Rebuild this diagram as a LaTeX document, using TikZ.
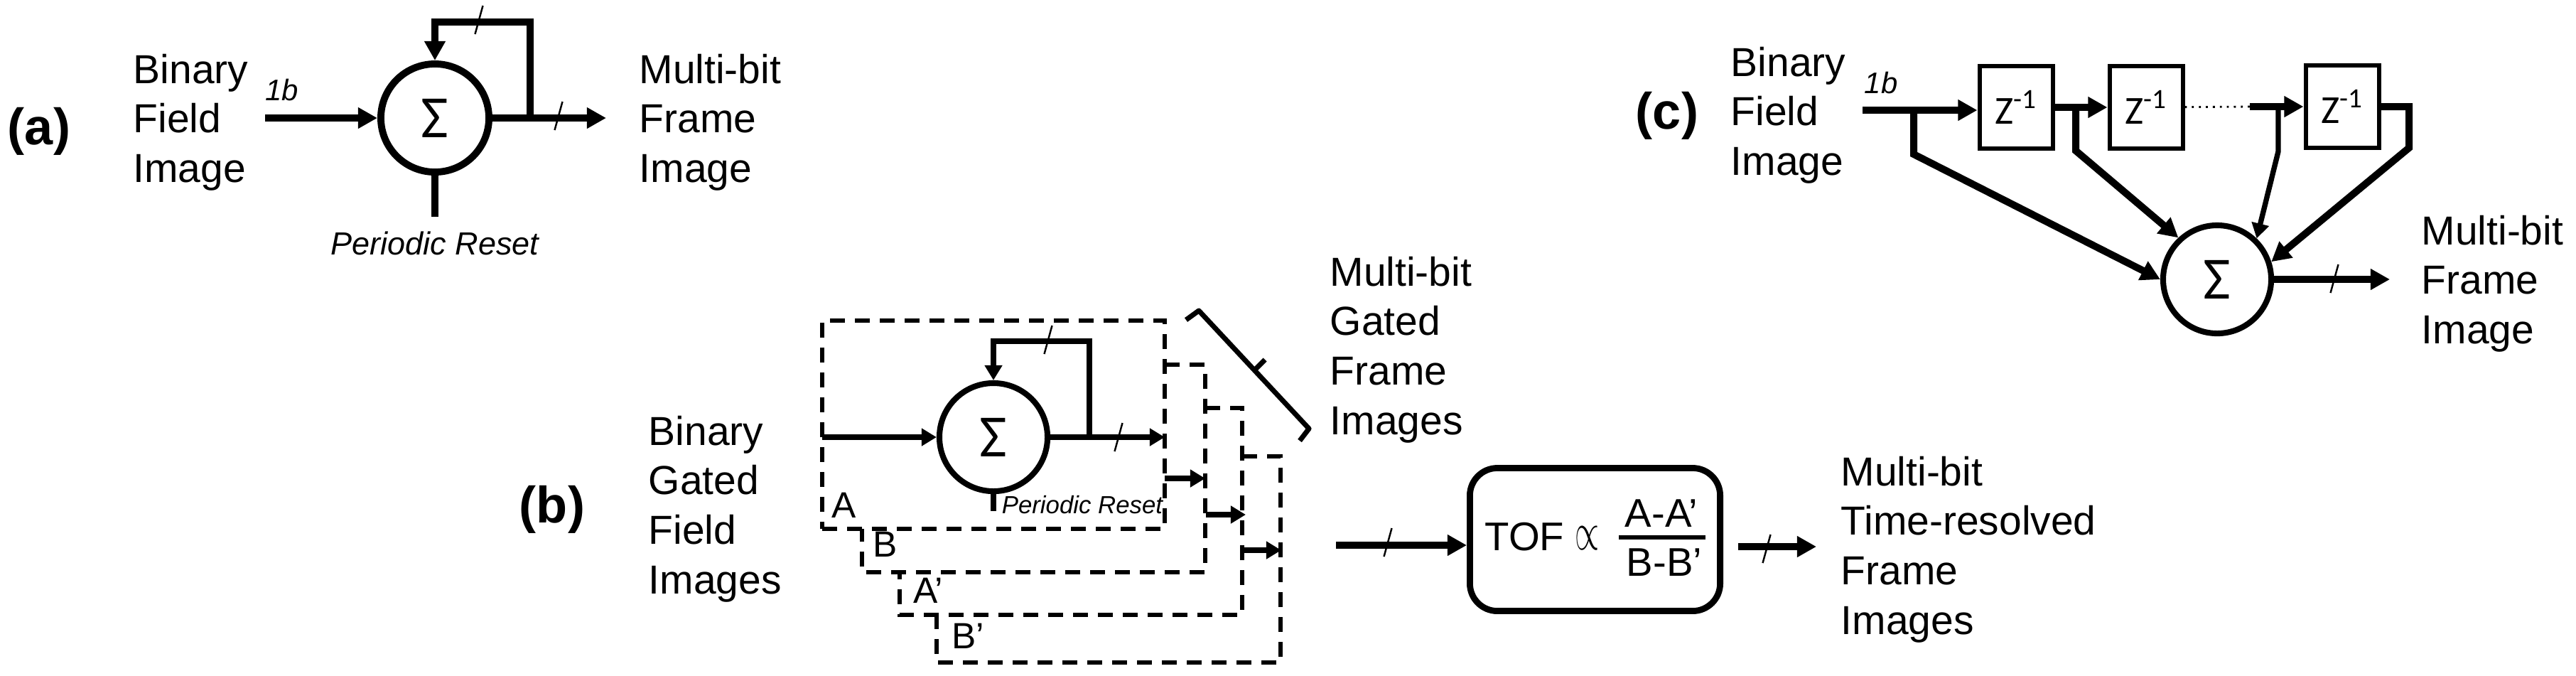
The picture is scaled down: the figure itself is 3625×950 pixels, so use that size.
\documentclass[tikz,border=0pt]{standalone}
\usepackage{fontspec}
\usetikzlibrary{arrows.meta}
\setmainfont{Liberation Sans}
\newfontfamily\calibri{Carlito}
\tikzset{
	lbl/.style={font=\fontsize{16.2}{19.85}\selectfont, align=left, inner sep=0pt, anchor=north west},
	tag/.style={font=\bfseries\fontsize{20.5}{24}\selectfont, inner sep=0pt},
	bit/.style={font=\itshape\fontsize{11.9}{14}\selectfont, inner sep=0pt},
	letter/.style={font=\fontsize{14.6}{17}\selectfont, inner sep=0pt},
	sumnode/.style={draw, circle, line width=2.3pt, minimum size=1.52cm, inner sep=0pt, font=\calibri\fontsize{24}{26}\selectfont},
	zbox/.style={draw, rectangle, line width=1.7pt, minimum width=1.03cm, minimum height=1.15cm, inner sep=0pt, font=\calibri\fontsize{15.9}{18}\selectfont},
	bigline/.style={line width=2.85pt, -{Triangle[length=7.7pt, width=8pt]}},
	bigstub/.style={line width=2.85pt},
	midline/.style={line width=2.1pt, -{Triangle[length=6pt, width=6.8pt]}},
	midstub/.style={line width=2.4pt},
	slash/.style={line width=0.7pt},
	dashbox/.style={line width=1.56pt, dash pattern=on 0.21cm off 0.14cm},
	tofpart/.style={font=\fontsize{16}{19}\selectfont, inner sep=0pt},
}
\begin{document}
\begin{tikzpicture}[x=0.01cm, y=-0.01cm, line join=miter, line cap=butt]
	\useasboundingbox (0,0) rectangle (3625,950);
	% (a)
	\node[tag] (taga) at (55,185) {(a)};
	\node[lbl] (txtaleft) at (187,75) {Binary\\Field\\Image};
	\node[lbl] (txtaright) at (899,75) {Multi-bit\\Frame\\Image};
	\node[bit] (bita) at (397,127) {1b};
	\node[sumnode, line width=2.8pt] (suma) at (612,166) {Σ};
	\node[font=\itshape\fontsize{12.8}{14}\selectfont, inner sep=0pt] (reseta) at (612,342) {Periodic Reset};
	\coordinate (ina) at (373,166);
	\coordinate (outa) at (853,166);
	\coordinate (taila) at (746,166);
	\coordinate (topa) at (746,31);
	\coordinate (stopa) at (612,305);
	\draw[bigline] (ina) -- (suma);
	\draw[bigline] (suma) -- (outa);
	\draw[bigline] (taila) -- (topa) -| (suma.north);
	\draw[bigstub] (suma.south) -- (stopa);
	% (c)
	\node[tag] (tagc) at (2346,163) {(c)};
	\node[lbl] (txtcleft) at (2435,65) {Binary\\Field\\Image};
	\node[lbl] (txtcright) at (3407,302) {Multi-bit\\Frame\\Image};
	\node[bit] (bitc) at (2647,117) {1b};
	\node[zbox] (za) at (2837,151) {Z\textsuperscript{-1}};
	\node[zbox] (zb) at (3020,151) {Z\textsuperscript{-1}};
	\node[zbox] (zc) at (3296,150) {Z\textsuperscript{-1}};
	\node[sumnode] (sumc) at (3120,393) {Σ};
	\coordinate (inc) at (2621,155);
	\coordinate (brancha) at (2693,155);
	\coordinate (kneea) at (2693,217);
	\coordinate (branchb) at (2921,151);
	\coordinate (kneeb) at (2921,212);
	\coordinate (dotend) at (3166,150);
	\coordinate (branchc) at (3206,150);
	\coordinate (kneec) at (3206,213);
	\coordinate (cornerd) at (3390,150);
	\coordinate (kneed) at (3390,208);
	\coordinate (outc) at (3363,393);
	\draw[bigline] (inc) -- (inc -| za.west);
	\draw[bigline] (za) -- (zb);
	\draw[line width=0.8pt, dotted] (zb) -- (dotend);
	\draw[bigline] (dotend) -- (zc);
	\draw[bigline] (brancha) -- (kneea) -- (sumc.west);
	\draw[bigline] (branchb) -- (kneeb) -- (sumc.133);
	\draw[midline] (branchc) -- (kneec) -- (sumc.46);
	\draw[bigline] (zc) -- (cornerd) -- (kneed) -- (sumc.18);
	\draw[bigline] (sumc) -- (outc);
	% (b)
	\node[tag] (tagb) at (777,717) {(b)};
	\node[lbl] (txtbleft) at (912,584) {Binary\\Gated\\Field\\Images};
	\node[lbl] (txtbtop) at (1871,360) {Multi-bit\\Gated\\Frame\\Images};
	\node[lbl] (txtbright) at (2590,641) {Multi-bit\\Time-resolved\\Frame\\Images};
	\node[dashbox, draw, rectangle, minimum width=4.82cm, minimum height=2.93cm, inner sep=0pt] (framea) at (1398,597.5) {};
	\draw[dashbox] (1639,513) -- (1696,513) -- (1696,805) -- (1213,805) -- (1213,744);
	\draw[dashbox] (1696,574) -- (1748,574) -- (1748,865) -- (1266,865) -- (1266,805);
	\draw[dashbox] (1748,642) -- (1802,642) -- (1802,932) -- (1318,932) -- (1318,865);
	\node[letter] (lettera) at (1188,711) {A};
	\node[letter] (letterb) at (1246,766) {B};
	\node[letter] (letterc) at (1306,831) {A’};
	\node[letter] (letterd) at (1362,895) {B’};
	\node[sumnode] (sumb) at (1398,615) {Σ};
	\node[font=\itshape\fontsize{9.9}{11}\selectfont, inner sep=0pt] (resetb) at (1523,710) {Periodic Reset};
	\coordinate (inb) at (1157,615);
	\coordinate (outb) at (1639,615);
	\coordinate (tailb) at (1533,615);
	\coordinate (topb) at (1533,480);
	\coordinate (stopb) at (1398,719);
	\draw[midline] (inb) -- (sumb);
	\draw[midline] (sumb) -- (outb);
	\draw[midline] (tailb) -- (topb) -| (sumb.north);
	\draw[midstub] (sumb.south) -- (stopb);
	\foreach \gx/\gy/\hx in {1639/673/1696, 1697/724/1753, 1748/774/1803}
		\draw[midline] (\gx,\gy) -- (\hx,\gy);
	\coordinate (brsa) at (1669,450);
	\coordinate (brsb) at (1687,437);
	\coordinate (brsc) at (1842,603);
	\coordinate (brsd) at (1829,620);
	\draw[line width=2pt, line join=round] (brsa) -- (brsb) -- (brsc) -- (brsd);
	\draw[line width=2pt] (1765,521) -- (1780,506);
	\node[draw, rectangle, rounded corners=11pt, line width=2.5pt, minimum width=3.52cm, minimum height=2.01cm, inner sep=0pt] (tofbox) at (2244.5,759) {};
	\node[tofpart, anchor=west] (toftxt) at (2089,755) {TOF};
	\node[tofpart] (propsign) at (2233,757) {\scalebox{.72}[1.25]{$\propto$}};
	\node[tofpart] (numer) at (2338,722) {A-A’};
	\node[tofpart] (denom) at (2342,791) {B-B’};
	\coordinate (barl) at (2278,756);
	\coordinate (barr) at (2400,756);
	\draw[line width=1.7pt] (barl) -- (barr);
	\coordinate (intof) at (1880,767);
	\coordinate (outtof) at (2556,769);
	\draw[bigline] (intof) -- (tofbox.west |- intof);
	\draw[bigline] (tofbox.east |- outtof) ++(21,0) -- (outtof);
	% bus marks
	\foreach \sx/\sy in {674/28, 786/163, 3285/392, 1475/478, 1574/615, 1953/763, 2486/772}
		\draw[slash] ({\sx+5.5},{\sy-20}) -- ({\sx-5.5},{\sy+20});
\end{tikzpicture}
\end{document}
